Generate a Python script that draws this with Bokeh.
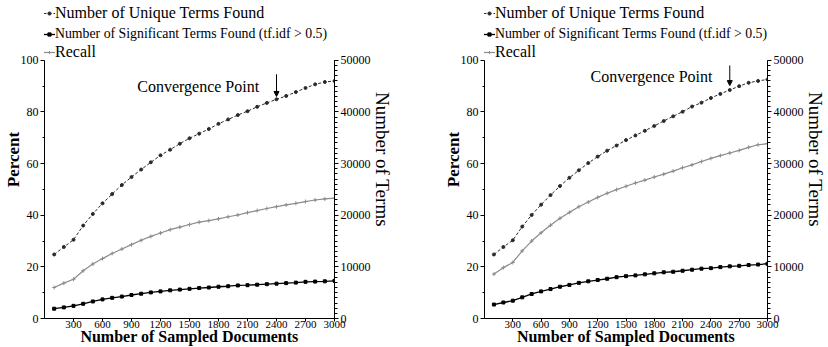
from bokeh.plotting import figure
from bokeh.models import (Range1d, LinearAxis, FixedTicker, Label, Arrow, NormalHead,
                          Legend, LegendItem)
from bokeh.layouts import row
from bokeh.embed import file_html
from bokeh.resources import INLINE

FONT = "Liberation Serif"

# ---------------- data ----------------
sampled_docs = [100, 200, 300, 400, 500, 600, 700, 800, 900, 1000,
                1100, 1200, 1300, 1400, 1500, 1600, 1700, 1800, 1900, 2000,
                2100, 2200, 2300, 2400, 2500, 2600, 2700, 2800, 2900, 3000]
x_tick_values = [300, 600, 900, 1200, 1500, 1800, 2100, 2400, 2700, 3000]
pct_ticks = [0, 20, 40, 60, 80, 100]
pct_minor = [10, 30, 50, 70, 90]
term_ticks = [0, 10000, 20000, 30000, 40000, 50000]

# left panel
unique_a = [12400, 13850, 15250, 18000, 20250, 22300, 24100, 25850, 27400, 28850,
            30250, 31600, 32700, 33850, 34900, 35800, 36700, 37700, 38550, 39400,
            40150, 41000, 41750, 42450, 43100, 43850, 44650, 45350, 45800, 46000]
signif_a = [1900, 2150, 2450, 2850, 3300, 3700, 4000, 4250, 4550, 4800,
            5050, 5250, 5450, 5600, 5750, 5900, 6000, 6150, 6250, 6400,
            6450, 6550, 6650, 6750, 6850, 6950, 7100, 7150, 7200, 7300]
recall_a = [12.0, 13.7, 15.2, 18.5, 21.1, 23.2, 25.2, 26.9, 28.6, 30.3,
            31.8, 33.1, 34.4, 35.4, 36.4, 37.3, 37.9, 38.6, 39.4, 40.1,
            41.0, 41.8, 42.6, 43.3, 44.0, 44.6, 45.3, 45.9, 46.3, 46.6]
convergence_a = 2400

# right panel
unique_b = [12400, 13850, 15150, 17800, 20050, 22050, 23900, 25650, 27250, 28700,
            30100, 31350, 32500, 33500, 34550, 35450, 36350, 37300, 38250, 39150,
            40050, 41050, 41800, 42700, 43500, 44250, 45000, 45650, 46000, 46300]
signif_b = [2700, 3100, 3450, 4100, 4750, 5250, 5700, 6150, 6500, 6900,
            7200, 7450, 7700, 8000, 8200, 8350, 8550, 8750, 8950, 9050,
            9250, 9450, 9650, 9750, 9950, 10100, 10200, 10350, 10450, 10600]
recall_b = [17.2, 19.7, 21.7, 26.2, 30.0, 33.2, 36.1, 38.8, 41.1, 43.3,
            45.1, 46.9, 48.5, 49.9, 51.2, 52.5, 53.6, 54.8, 55.9, 57.1,
            58.4, 59.5, 60.8, 62.0, 63.1, 64.1, 65.1, 66.3, 67.3, 67.7]
convergence_b = 2600

legend_names = ["Number of Unique Terms Found",
                "Number of Significant Terms Found (tf.idf > 0.5)",
                "Recall"]
legend_sizes = ["16px", "13.8px", "16px"]   # the long row is shrunk to fit the frame

UNIQUE_COLOR = "#2a2a2a"
SIGNIF_COLOR = "#000000"
RECALL_COLOR = "#8c8c8c"

# ---------------- layout ----------------
FIG_H = 347
BOTTOM = 28
FRAME_W = 290
FRAME_H = FIG_H - BOTTOM          # frame runs to the top of the canvas
AXIS_TOP_PX = 60                  # where 100 % / 50000 terms sit
PX_PER_PCT = (FRAME_H - AXIS_TOP_PX) / 100.0
Y_TOP = FRAME_H / PX_PER_PCT      # range end so that 100 lands at AXIS_TOP_PX
TERMS_PER_PCT = 500.0
LEGEND_ROWS_PX = [14, 35, 53]     # legend row centres from the top


def make_panel(unique, signif, recall, conv_x, conv_y0, conv_y1,
               text_x, text_y, fig_w, left_border):
    p = figure(width=fig_w, height=FIG_H,
               x_range=Range1d(0, 3000), y_range=Range1d(0, Y_TOP),
               output_backend="svg", toolbar_location=None,
               min_border_left=left_border,
               min_border_right=fig_w - left_border - FRAME_W,
               min_border_top=0, min_border_bottom=BOTTOM)
    p.extra_y_ranges = {"terms": Range1d(0, Y_TOP * TERMS_PER_PCT)}
    p.outline_line_color = None
    p.grid.visible = False
    p.background_fill_color = "white"
    p.border_fill_color = "white"

    # bottom axis
    xa = p.xaxis[0]
    xa.ticker = FixedTicker(ticks=x_tick_values)
    xa.major_tick_out = 3
    xa.major_tick_in = 0
    xa.minor_tick_line_color = None
    xa.major_label_standoff = -1
    xa.major_label_text_font = FONT
    xa.major_label_text_font_size = "11px"
    xa.major_label_text_color = "black"
    xa.axis_line_color = "black"
    xa.axis_label = "Number of Sampled Documents"
    xa.axis_label_text_font = FONT
    xa.axis_label_text_font_size = "16px"
    xa.axis_label_text_font_style = "bold"
    xa.axis_label_text_color = "black"
    xa.axis_label_standoff = -3

    # left axis (percent)
    ya = p.yaxis[0]
    ya.bounds = (0, 100)
    ya.ticker = FixedTicker(ticks=pct_ticks, minor_ticks=pct_minor)
    ya.major_tick_out = 4
    ya.major_tick_in = 0
    ya.minor_tick_out = 2
    ya.minor_tick_in = 0
    ya.major_label_standoff = 2
    ya.major_label_text_font = FONT
    ya.major_label_text_font_size = "12px"
    ya.major_label_text_color = "black"
    ya.axis_label = "Percent"
    ya.axis_label_text_font = FONT
    ya.axis_label_text_font_size = "17px"
    ya.axis_label_text_font_style = "bold"
    ya.axis_label_text_color = "black"
    ya.axis_label_standoff = -5

    # right axis (terms)
    ra = LinearAxis(y_range_name="terms", bounds=(0, 50000),
                    ticker=FixedTicker(ticks=term_ticks,
                                       minor_ticks=list(range(0, 50001, 1000))))
    ra.major_tick_out = 4
    ra.major_tick_in = 0
    ra.minor_tick_out = 3
    ra.minor_tick_in = 0
    ra.major_label_standoff = 2
    ra.major_label_text_font = FONT
    ra.major_label_text_font_size = "12px"
    ra.major_label_text_color = "black"
    ra.axis_label = "Number of Terms"
    ra.axis_label_text_font = FONT
    ra.axis_label_text_font_size = "19px"
    ra.axis_label_text_font_style = "normal"
    ra.axis_label_text_color = "black"
    ra.axis_label_standoff = -2
    p.add_layout(ra, "right")

    # series
    ul = p.line(sampled_docs, unique, y_range_name="terms", line_color=UNIQUE_COLOR,
                line_width=1, line_dash="3 2")
    us = p.scatter(sampled_docs, unique, y_range_name="terms", marker="circle", size=3,
                   fill_color=UNIQUE_COLOR, line_color=UNIQUE_COLOR)
    sl = p.line(sampled_docs, signif, y_range_name="terms", line_color=SIGNIF_COLOR,
                line_width=1.3)
    ss = p.scatter(sampled_docs, signif, y_range_name="terms", marker="square", size=3,
                   fill_color=SIGNIF_COLOR, line_color=SIGNIF_COLOR)
    rl = p.line(sampled_docs, recall, line_color=RECALL_COLOR, line_width=1.2)
    rs = p.scatter(sampled_docs, recall, marker="cross", size=4, line_color=RECALL_COLOR)

    # convergence annotation
    p.add_layout(Arrow(x_start=conv_x, y_start=conv_y0, x_end=conv_x, y_end=conv_y1,
                       line_width=1, line_color="black",
                       end=NormalHead(size=5, fill_color="black", line_color="black")))
    p.add_layout(Label(x=text_x, y=text_y, text="Convergence Point",
                       text_align="center", text_baseline="middle",
                       text_font=FONT, text_font_size="16px", text_color="black"))

    # legend rows (one legend per row, placed above the 100 % line)
    for name, size, rends, cy in zip(legend_names, legend_sizes,
                                     [[ul, us], [sl, ss], [rl, rs]], LEGEND_ROWS_PX):
        lg = Legend(items=[LegendItem(label=name, renderers=rends)],
                    location=(-1, FRAME_H - cy - 9), orientation="vertical",
                    padding=0, margin=0, spacing=0, level="overlay",
                    glyph_width=12, glyph_height=8, label_height=18,
                    label_standoff=0,
                    label_text_font=FONT, label_text_font_size=size,
                    label_text_color="black",
                    border_line_color=None, background_fill_alpha=0)
        p.add_layout(lg, "center")
    return p


p1 = make_panel(unique_a, signif_a, recall_a, convergence_a, 94.6, 86.0,
                1590, 90.0, 412, 44)
p2 = make_panel(unique_b, signif_b, recall_b, convergence_b, 98.0, 90.2,
                1770, 93.8, 416, 72)

layout = row(p1, p2)
open("out.html", "w").write(file_html(layout, INLINE))
